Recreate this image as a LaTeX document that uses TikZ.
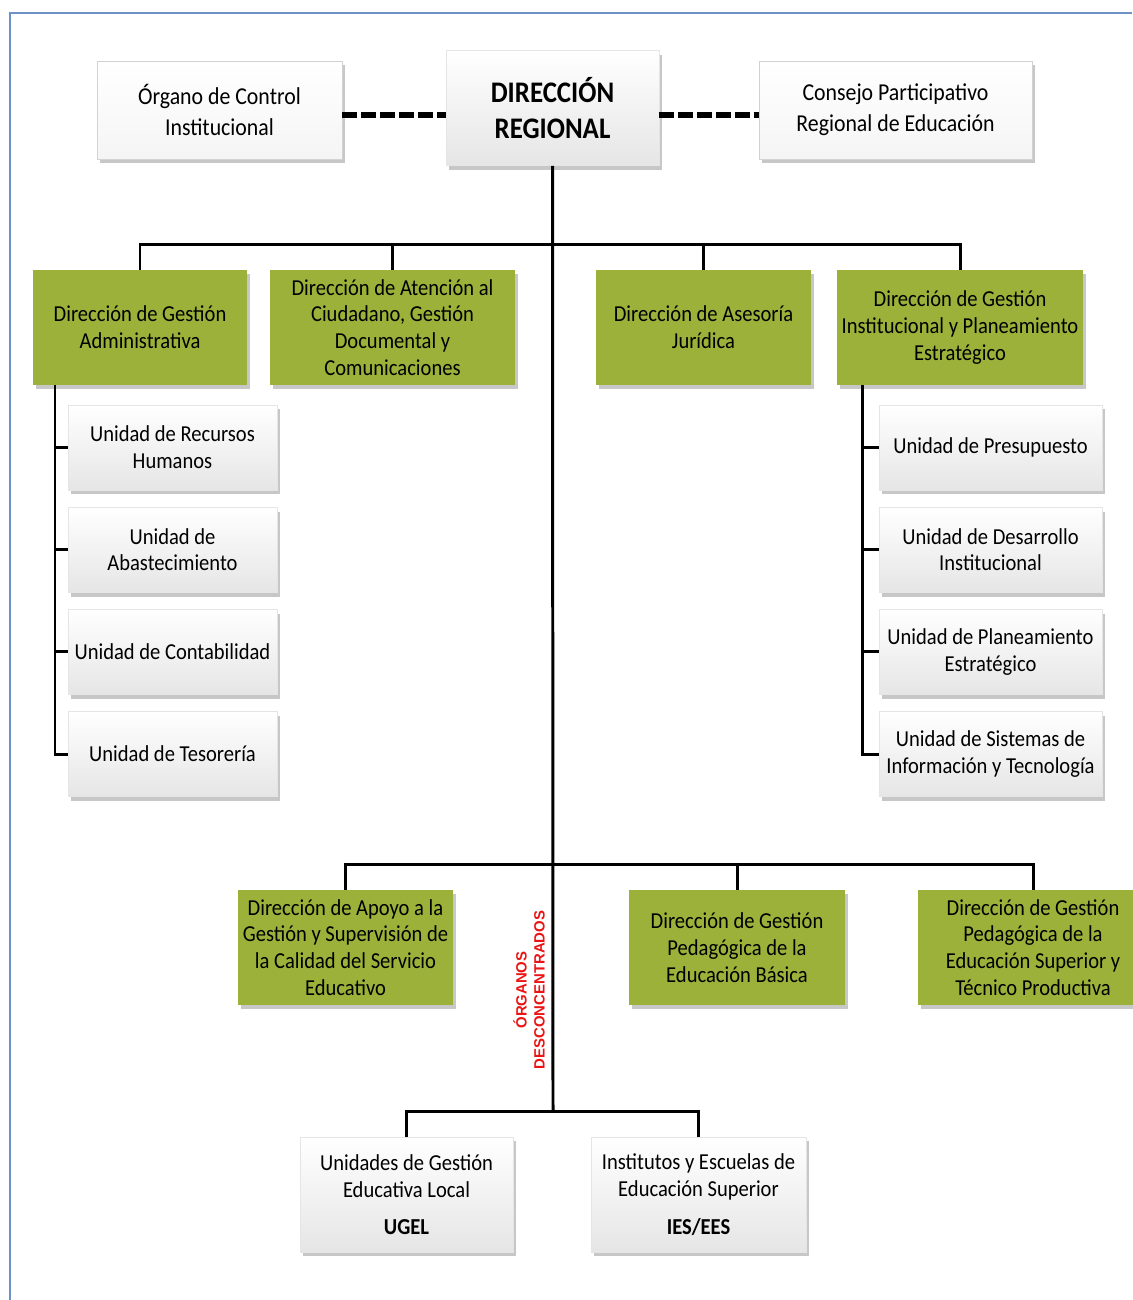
\documentclass[tikz,border=0pt]{standalone}
\usepackage{fontspec}
\setmainfont{Carlito}[FakeStretch=0.9]
\newfontfamily\redfont{Liberation Sans}
\usetikzlibrary{shadows, positioning}
\definecolor{olivegreen}{RGB}{155,177,58}
\definecolor{frameblue}{RGB}{110,145,200}
\definecolor{orgred}{RGB}{235,20,20}
\tikzstyle{whitebox} = [rectangle, draw=gray!20, top color=white, bottom color=gray!20, text centered, align=center, inner sep=0pt, drop shadow={shadow xshift=1.5pt, shadow yshift=-2.5pt, fill=gray!80, opacity=0.55}, font=\fontsize{13}{15.3}\selectfont]
\tikzstyle{greenbox} = [rectangle, fill=olivegreen, text centered, align=center, inner sep=0pt, minimum height=2.3cm, drop shadow={shadow xshift=1.5pt, shadow yshift=-2.5pt, fill=gray!80, opacity=0.55}, font=\fontsize{13}{15.3}\selectfont]
\tikzstyle{topbox} = [whitebox, top color=white, bottom color=gray!8, draw=gray!35, minimum height=1.96cm, font=\fontsize{13.8}{17.6}\selectfont]
\tikzstyle{unitbox} = [whitebox, minimum width=4.18cm, minimum height=1.7cm]
\tikzstyle{link} = [line width=1.7pt]
\tikzstyle{dashlink} = [line width=3.2pt, dash pattern=on 0.3cm off 0.08cm]

\begin{document}
\begin{tikzpicture}[x=0.02cm, y=-0.02cm]
\useasboundingbox (0,0) rectangle (1132,1300);

% Frame
\draw[frameblue, line width=1.2pt] (10,1300) -- (10,13) -- (1132,13);

% Top level
\node (dr) [whitebox, minimum width=4.26cm, minimum height=2.3cm, font=\fontsize{17}{20.4}\selectfont\bfseries] at (552.5,108) {DIRECCIÓN\\REGIONAL};
\node (oci) [topbox, minimum width=4.9cm] at (219.5,110) {Órgano de Control\\Institucional};
\node (cpr) [topbox, minimum width=5.46cm] at (895.5,110) {Consejo Participativo\\Regional de Educación};

% Direcciones
\node (dga) [greenbox, minimum width=4.28cm] at (140,327.5) {Dirección de Gestión\\Administrativa};
\node (dac) [greenbox, minimum width=4.9cm] at (392.5,327.5) {Dirección de Atención al\\Ciudadano, Gestión\\Documental y\\Comunicaciones};
\node (daj) [greenbox, minimum width=4.3cm] at (703.5,327.5) {Dirección de Asesoría\\Jurídica};
\node (dgipe) [greenbox, minimum width=4.92cm] at (960,327.5) {Dirección de  Gestión\\Institucional y Planeamiento\\Estratégico};

% Unidades (left)
\node (rrhh) [unitbox] at (172.5,447.5) {Unidad de Recursos\\Humanos};
\node (abast) [unitbox, below=0.33cm of rrhh] {Unidad de\\Abastecimiento};
\node (conta) [unitbox, below=0.33cm of abast] {Unidad de Contabilidad};
\node (teso) [unitbox, below=0.33cm of conta] {Unidad de Tesorería};

% Unidades (right)
\node (presu) [unitbox, minimum width=4.46cm] at (990.5,447.5) {Unidad de Presupuesto};
\node (desin) [unitbox, minimum width=4.46cm, below=0.33cm of presu] {Unidad de Desarrollo\\Institucional};
\node (plane) [unitbox, minimum width=4.46cm, below=0.33cm of desin] {Unidad de Planeamiento\\Estratégico};
\node (sist) [unitbox, minimum width=4.46cm, below=0.33cm of plane] {Unidad de Sistemas de\\Información y Tecnología};

% Lower direcciones
\node (apoyo) [greenbox, minimum width=4.3cm] at (345.5,947.5) {Dirección de Apoyo a la\\Gestión y Supervisión de\\la Calidad del Servicio\\Educativo};
\node (basica) [greenbox, minimum width=4.32cm] at (737,947.5) {Dirección de Gestión\\Pedagógica de la\\Educación Básica};
\node (superior) [greenbox, minimum width=4.6cm] at (1033,947.5) {Dirección de Gestión\\Pedagógica de la\\Educación Superior y\\Técnico Productiva};

% Organos desconcentrados
\node (ugel) [whitebox, minimum width=4.26cm, minimum height=2.3cm] at (406.5,1194.5) {Unidades de Gestión\\Educativa Local\\[6pt]\textbf{UGEL}};
\node (ies) [whitebox, minimum width=4.3cm, minimum height=2.3cm] at (698.5,1194.5) {Institutos  y Escuelas de\\Educación Superior\\[6pt]\textbf{IES/EES}};
\node (desc) [rotate=90, text=orgred, align=center, font=\redfont\bfseries\fontsize{8.5}{10.2}\selectfont] at (529,990) {ÓRGANOS\\DESCONCENTRADOS};

% Connectors
\coordinate (trunkend) at (553,1112);
\coordinate (lspine) at (55,385);
\coordinate (rspine) at (862,385);
\draw[dashlink] ([yshift=-0.1cm]oci.east) -- ([yshift=-0.1cm]oci.east -| dr.west);
\draw[dashlink] ([yshift=-0.14cm]dr.east) -- ([yshift=-0.14cm]dr.east -| cpr.west);
\draw[link] (dr.south) -- (trunkend);
\draw[link] (dga.north) -- ++(0,-25) -| (dgipe.north);
\draw[link] (dac.north) -- ++(0,-25);
\draw[link] (daj.north) -- ++(0,-25);
\draw[link] (lspine) |- (teso.west);
\draw[link] (lspine |- rrhh.west) -- (rrhh.west);
\draw[link] (lspine |- abast.west) -- (abast.west);
\draw[link] (lspine |- conta.west) -- (conta.west);
\draw[link] (rspine) |- (sist.west);
\draw[link] (rspine |- presu.west) -- (presu.west);
\draw[link] (rspine |- desin.west) -- (desin.west);
\draw[link] (rspine |- plane.west) -- (plane.west);
\draw[link] (apoyo.north) -- ++(0,-25) -| (superior.north);
\draw[link] (basica.north) -- ++(0,-25);
\draw[link] (ugel.north) -- ++(0,-25) -| (ies.north);

\end{tikzpicture}
\end{document}
